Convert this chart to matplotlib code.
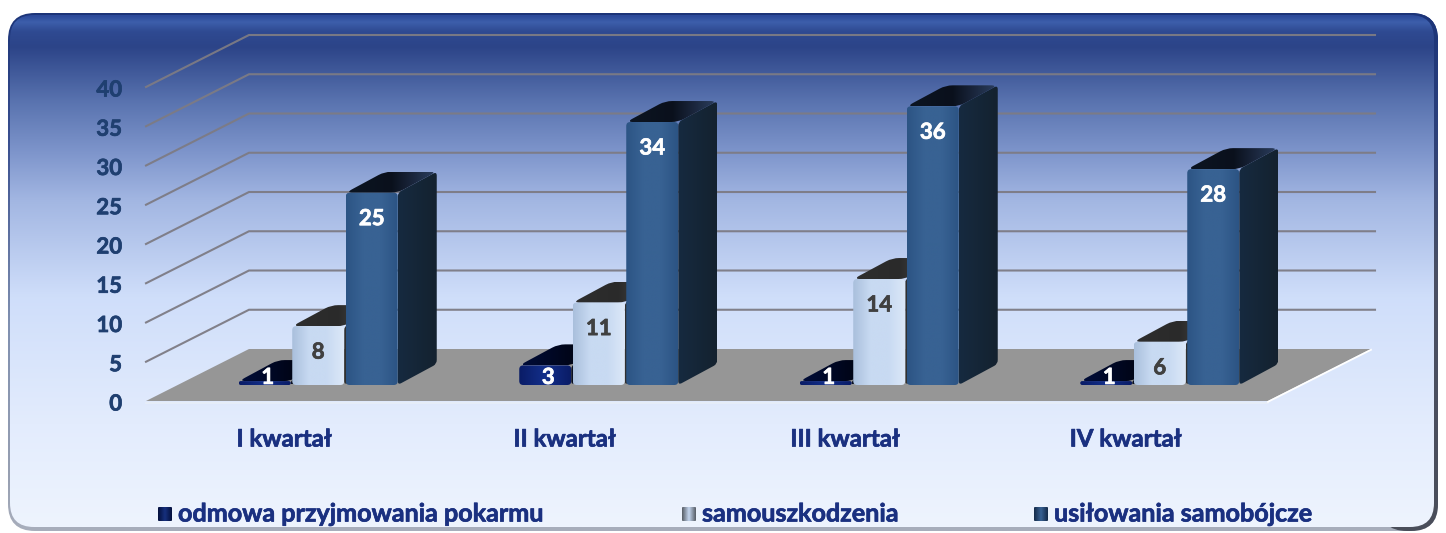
import matplotlib
matplotlib.use('Agg')
import matplotlib.patheffects as pe
import matplotlib.pyplot as plt
import numpy as np
from matplotlib.colors import LinearSegmentedColormap
from matplotlib.patches import PathPatch
from matplotlib.path import Path

quarters = ['I kwartał', 'II kwartał', 'III kwartał', 'IV kwartał']
series_names = ['odmowa przyjmowania pokarmu', 'samouszkodzenia', 'usiłowania samobójcze']
refusal = [1, 3, 1, 1]
self_harm = [8, 11, 14, 6]
suicide = [25, 34, 36, 28]
y_ticks = [0, 5, 10, 15, 20, 25, 30, 35, 40]

W, H = 1446, 533
PX_CAT = 280.5   # pixels per category
PX_VAL = 7.85    # pixels per value unit
ZERO_X = 286.25
ZERO_Y = 401

FONT = 'Lato'
NAVY = '#1a3080'


def px_x(p):
    return (p - ZERO_X) / PX_CAT


def px_y(p):
    return (ZERO_Y - p) / PX_VAL


def rounded_path(points, radius):
    # polygon with rounded corners, radius in pixels, points in data units
    pts = np.array(points, dtype=float) * [PX_CAT, PX_VAL]
    n = len(pts)
    verts, codes = [], []
    for i in range(n):
        p, a, b = pts[i], pts[i - 1], pts[(i + 1) % n]
        ua = (a - p) / np.linalg.norm(a - p)
        ub = (b - p) / np.linalg.norm(b - p)
        r = min(radius, np.linalg.norm(a - p) / 2, np.linalg.norm(b - p) / 2)
        verts.append(p + ua * r)
        codes.append(Path.MOVETO if i == 0 else Path.LINETO)
        verts += [p, p + ub * r]
        codes += [Path.CURVE3, Path.CURVE3]
    verts.append(verts[0])
    codes.append(Path.CLOSEPOLY)
    return Path(np.array(verts) / [PX_CAT, PX_VAL], codes)


def gradient_fill(ax, path, colors, vertical=False, zorder=1):
    box = path.get_extents()
    cmap = LinearSegmentedColormap.from_list('g', colors)
    grad = np.linspace(0, 1, 256)
    grad = grad.reshape(-1, 1) if vertical else grad.reshape(1, -1)
    im = ax.imshow(grad, cmap=cmap, aspect='auto', zorder=zorder, origin='upper',
                   extent=[box.x0, box.x1, box.y0, box.y1], interpolation='bilinear')
    clip = PathPatch(path, transform=ax.transData, fc='none', ec='none')
    ax.add_patch(clip)
    im.set_clip_path(clip)


def panel_points(left, top, right, bottom):
    return [(px_x(left), px_y(top)), (px_x(right), px_y(top)),
            (px_x(right), px_y(bottom)), (px_x(left), px_y(bottom))]


def bold_text(ax, x, y, s, color, size, **kwargs):
    # Lato Bold is a bit lighter than the original face
    t = ax.text(x, y, s, color=color, fontsize=size, fontweight='bold', family=FONT,
                zorder=8, va='center', **kwargs)
    t.set_path_effects([pe.withStroke(linewidth=0.5, foreground=color)])
    return t


fig = plt.figure(figsize=(W / 100, H / 100), dpi=100, facecolor='white')
ax = fig.add_axes([0, 0, 1, 1])
ax.axis('off')

# panel with bevelled edge
gradient_fill(ax, rounded_path(panel_points(8, 13, 1438, 531), 27),
              [(0, '#1c3478'), (0.25, '#3a5090'), (0.6, '#8090b0'), (0.9, '#98a0b2'), (1, '#a8aebc')],
              vertical=True, zorder=1)
gradient_fill(ax, rounded_path(panel_points(1380, 13, 1438, 531), 27),
              [(0, '#1c3478'), (0.2, '#2a3f7c'), (0.5, '#4a5064'), (1, '#4a4e5a')],
              vertical=True, zorder=1)
gradient_fill(ax, rounded_path(panel_points(10, 15, 1434, 527), 24),
              [(0, '#2c4a9a'), (0.012, '#3d5fab'), (0.03, '#2f4a92'), (0.06, '#2c4488'),
               (0.17, '#5a74b0'), (0.27, '#7f96cc'), (0.36, '#a2b6e2'), (0.55, '#cfdefa'),
               (0.8, '#e3ecfd'), (1, '#eef4fe')], vertical=True, zorder=2)

# walls and floor, depth of the plot box
depth_x = 103 / PX_CAT
depth_y = 52 / PX_VAL
x_left = -0.5
x_right = len(quarters) - 0.5

for v in y_ticks[1:]:
    ax.plot([x_left, x_left + depth_x, x_right + depth_x + 4 / PX_CAT],
            [v, v + depth_y, v + depth_y], color='#7d7b84', lw=1.5, zorder=3,
            solid_joinstyle='miter', alpha=0.95)

ax.fill([x_left, x_right, x_right + depth_x, x_left + depth_x],
        [0, 0, depth_y, depth_y], color='#969696', zorder=3, lw=0)
ax.plot([x_left, x_right], [-0.25, -0.25], color='#e8eef8', lw=1.2, zorder=3)
ax.plot([x_right, x_right + depth_x], [-0.1, depth_y - 0.1], color='white', lw=1.3, zorder=3)

# bars
series = [refusal, self_harm, suicide]
front_colors = [['#0a1c66', '#132f8a', '#0a1c66'],
                ['#a9bfdc', '#c8daf2', '#c8daf2', '#dce8f8'],
                ['#2c5484', '#386293', '#386293', '#2c5484']]
top_colors = [['#000c38', '#000000'], ['#2e2e2e', '#2a2a2a', '#5a5a5a'], ['#0c1522', '#0a101c', '#2a3c5c']]
side_colors = [['#0a1020', '#101828'], ['#303030', '#404040'], ['#162a40', '#14222f']]
label_colors = ['white', '#404040', 'white']

bar_width = 52 / PX_CAT
bar_step = 53.5 / PX_CAT
base_x = 32 / PX_CAT
base_y = 16 / PX_VAL
bar_dx = 39 / PX_CAT
bar_dy = 21 / PX_VAL

for s, values in enumerate(series):
    for c, v in enumerate(values):
        x0 = c + base_x + (s - 1) * bar_step - bar_width / 2
        x1 = x0 + bar_width
        y0 = base_y
        y1 = base_y + v - 0.5
        z = 4 + s + c * 0.01
        side = [(x1, y0), (x1, y1), (x1 + bar_dx, y1 + bar_dy), (x1 + bar_dx, y0 + bar_dy)]
        top = [(x0, y1), (x1, y1), (x1 + bar_dx, y1 + bar_dy), (x0 + bar_dx, y1 + bar_dy)]
        front = [(x0, y0), (x1, y0), (x1, y1), (x0, y1)]
        gradient_fill(ax, rounded_path(side, 4), side_colors[s], zorder=z)
        gradient_fill(ax, rounded_path(top, 7), top_colors[s], zorder=z)
        gradient_fill(ax, rounded_path(front, 4), front_colors[s], zorder=z + 0.001)
        label_y = max(y1 - 26 / PX_VAL, 3.0)
        bold_text(ax, (x0 + x1) / 2 + (3 / PX_CAT if s == 0 else 0), label_y, str(v),
                  label_colors[s], 16, ha='center')

# tick labels
for v in y_ticks:
    bold_text(ax, px_x(122), v - 3 / PX_VAL, str(v), '#1f3f70', 16, ha='right')

for c, name in enumerate(quarters):
    bold_text(ax, c - 2 / PX_CAT, px_y(439), name, NAVY, 17.3, ha='center')

# legend
legend_x = [158, 682, 1034]
legend_fill = [['#04103c', '#16307e', '#04103c'],
               ['#555b63', '#c4d6ee', '#555b63'],
               ['#142a48', '#386293', '#142a48']]
for s, name in enumerate(series_names):
    lx = legend_x[s]
    gradient_fill(ax, rounded_path(panel_points(lx, 507, lx + 14, 521), 1), legend_fill[s], zorder=8)
    bold_text(ax, px_x(lx + 20), px_y(514), name, NAVY, 18.1, ha='left')

ax.set_xlim(px_x(0), px_x(W))
ax.set_ylim(px_y(H), px_y(0))

fig.savefig('out.png', dpi=100, facecolor='white')
